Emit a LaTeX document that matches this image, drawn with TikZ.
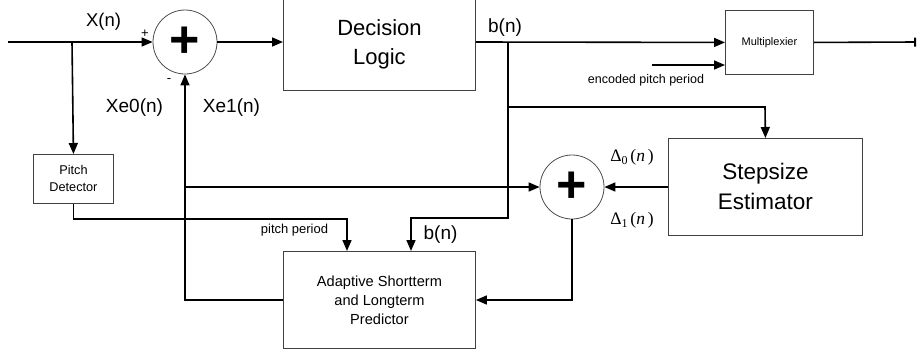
\documentclass[tikz,border=0pt]{standalone}
\usepackage{fontspec}
\setmainfont{Liberation Sans}
\newfontfamily\serifdelta{Liberation Serif}
\usetikzlibrary{arrows.meta}
\newcommand{\fsz}[2]{\fontsize{#1}{#2}\selectfont}
\begin{document}
\begin{tikzpicture}[x=1pt,y=-1pt,
  line/.style={line width=1.6pt},
  arr/.style={line width=1.6pt,-{Triangle[length=11pt,width=9pt]}},
  box/.style={draw=black!75,line width=0.9pt,fill=white,align=center,inner sep=0pt,anchor=north west},
  sum/.style={circle,draw=black!70,line width=0.8pt,minimum size=64pt,inner sep=0pt},
  lbl/.style={inner sep=0pt}]
\useasboundingbox (0,0) rectangle (917,351);
% blocks
\node[box,minimum width=192pt,minimum height=93pt,font=\fsz{22}{29}] (dl) at (283,-3) {Decision\\Logic};
\node[box,minimum width=88pt,minimum height=64pt,font=\fsz{11}{13}] (mux) at (725,10) {Multiplexier};
\node[box,minimum width=194pt,minimum height=97pt,font=\fsz{22.5}{30}] (se) at (668,138) {Stepsize\\Estimator};
\node[box,minimum width=80pt,minimum height=49pt,font=\fsz{12.7}{17}] (pd) at (33,154) {Pitch\\Detector};
\node[box,minimum width=192pt,minimum height=97pt,font=\fsz{14.6}{19}] (pr) at (283,251) {Adaptive Shortterm\\and Longterm\\Predictor};
\node[sum,font=\fsz{52}{52}\bfseries] (s1) at (185,42) {+};
\node[sum,font=\fsz{52}{52}\bfseries] (s2) at (572,187) {+};
% coordinates
\coordinate (in) at (8,42);
\coordinate (j1) at (72,42);
\coordinate (j2) at (508,42);
\coordinate (outend) at (916,42);
\coordinate (enc) at (652,65);
% connectors
\draw[line] (in) -- (j1);
\draw[arr] (j1) -- (s1.west);
\draw[arr] (j1) -- (pd.north);
\draw[arr] (s1.east) -- (dl.west |- s1.east);
\draw[arr] (dl.east |- j2) -- (mux.west);
\draw[line,-{Bar[width=9pt,line width=1.8pt]}] (mux.east) -- (outend);
\draw[arr] (enc) -- (mux.west |- enc);
\draw[arr] (j2) |- (765,107) -- (se.north);
\draw[arr] (j2) |- (411,218) -- (pr.north -| 411,0);
\draw[arr] (pd.south) |- (347,219) -- (pr.north -| 347,0);
\draw[arr] (pr.west |- 0,300) -| (s1.south);
\draw[arr] (185,187) -- (s2.west);
\draw[arr] (se.west |- s2.east) -- (s2.east);
\draw[arr] (s2.south) |- (pr.east |- 0,300);
% labels
\node[lbl,font=\fsz{18.5}{20}] (lx) at (103.5,22) {X(n)};
\node[lbl,font=\fsz{13}{13}] (lplus) at (145,34) {+};
\node[lbl,font=\fsz{13}{13}] (lminus) at (169,81) {-};
\node[lbl,font=\fsz{19}{20}] (lxe0) at (134.5,108) {Xe0(n)};
\node[lbl,font=\fsz{19}{20}] (lxe1) at (231.5,108) {Xe1(n)};
\node[lbl,font=\fsz{19}{20}] (lb1) at (505,28) {b(n)};
\node[lbl,font=\fsz{12.5}{13}] (lenc) at (646,80) {encoded pitch period};
\node[lbl,font=\fsz{13}{14}] (lpp) at (294.5,230) {pitch period};
\node[lbl,font=\fsz{19}{20}] (lb2) at (440.5,235) {b(n)};
\node[lbl,font=\fsz{17.5}{18}\serifdelta] (ld0) at (632,157) {Δ\raisebox{-0.35ex}{\fsz{12}{12}0}\,(\textit{n}\,)};
\node[lbl,font=\fsz{17.5}{18}\serifdelta] (ld1) at (632,220) {Δ\raisebox{-0.35ex}{\fsz{12}{12}1}\,(\textit{n}\,)};
\end{tikzpicture}
\end{document}
